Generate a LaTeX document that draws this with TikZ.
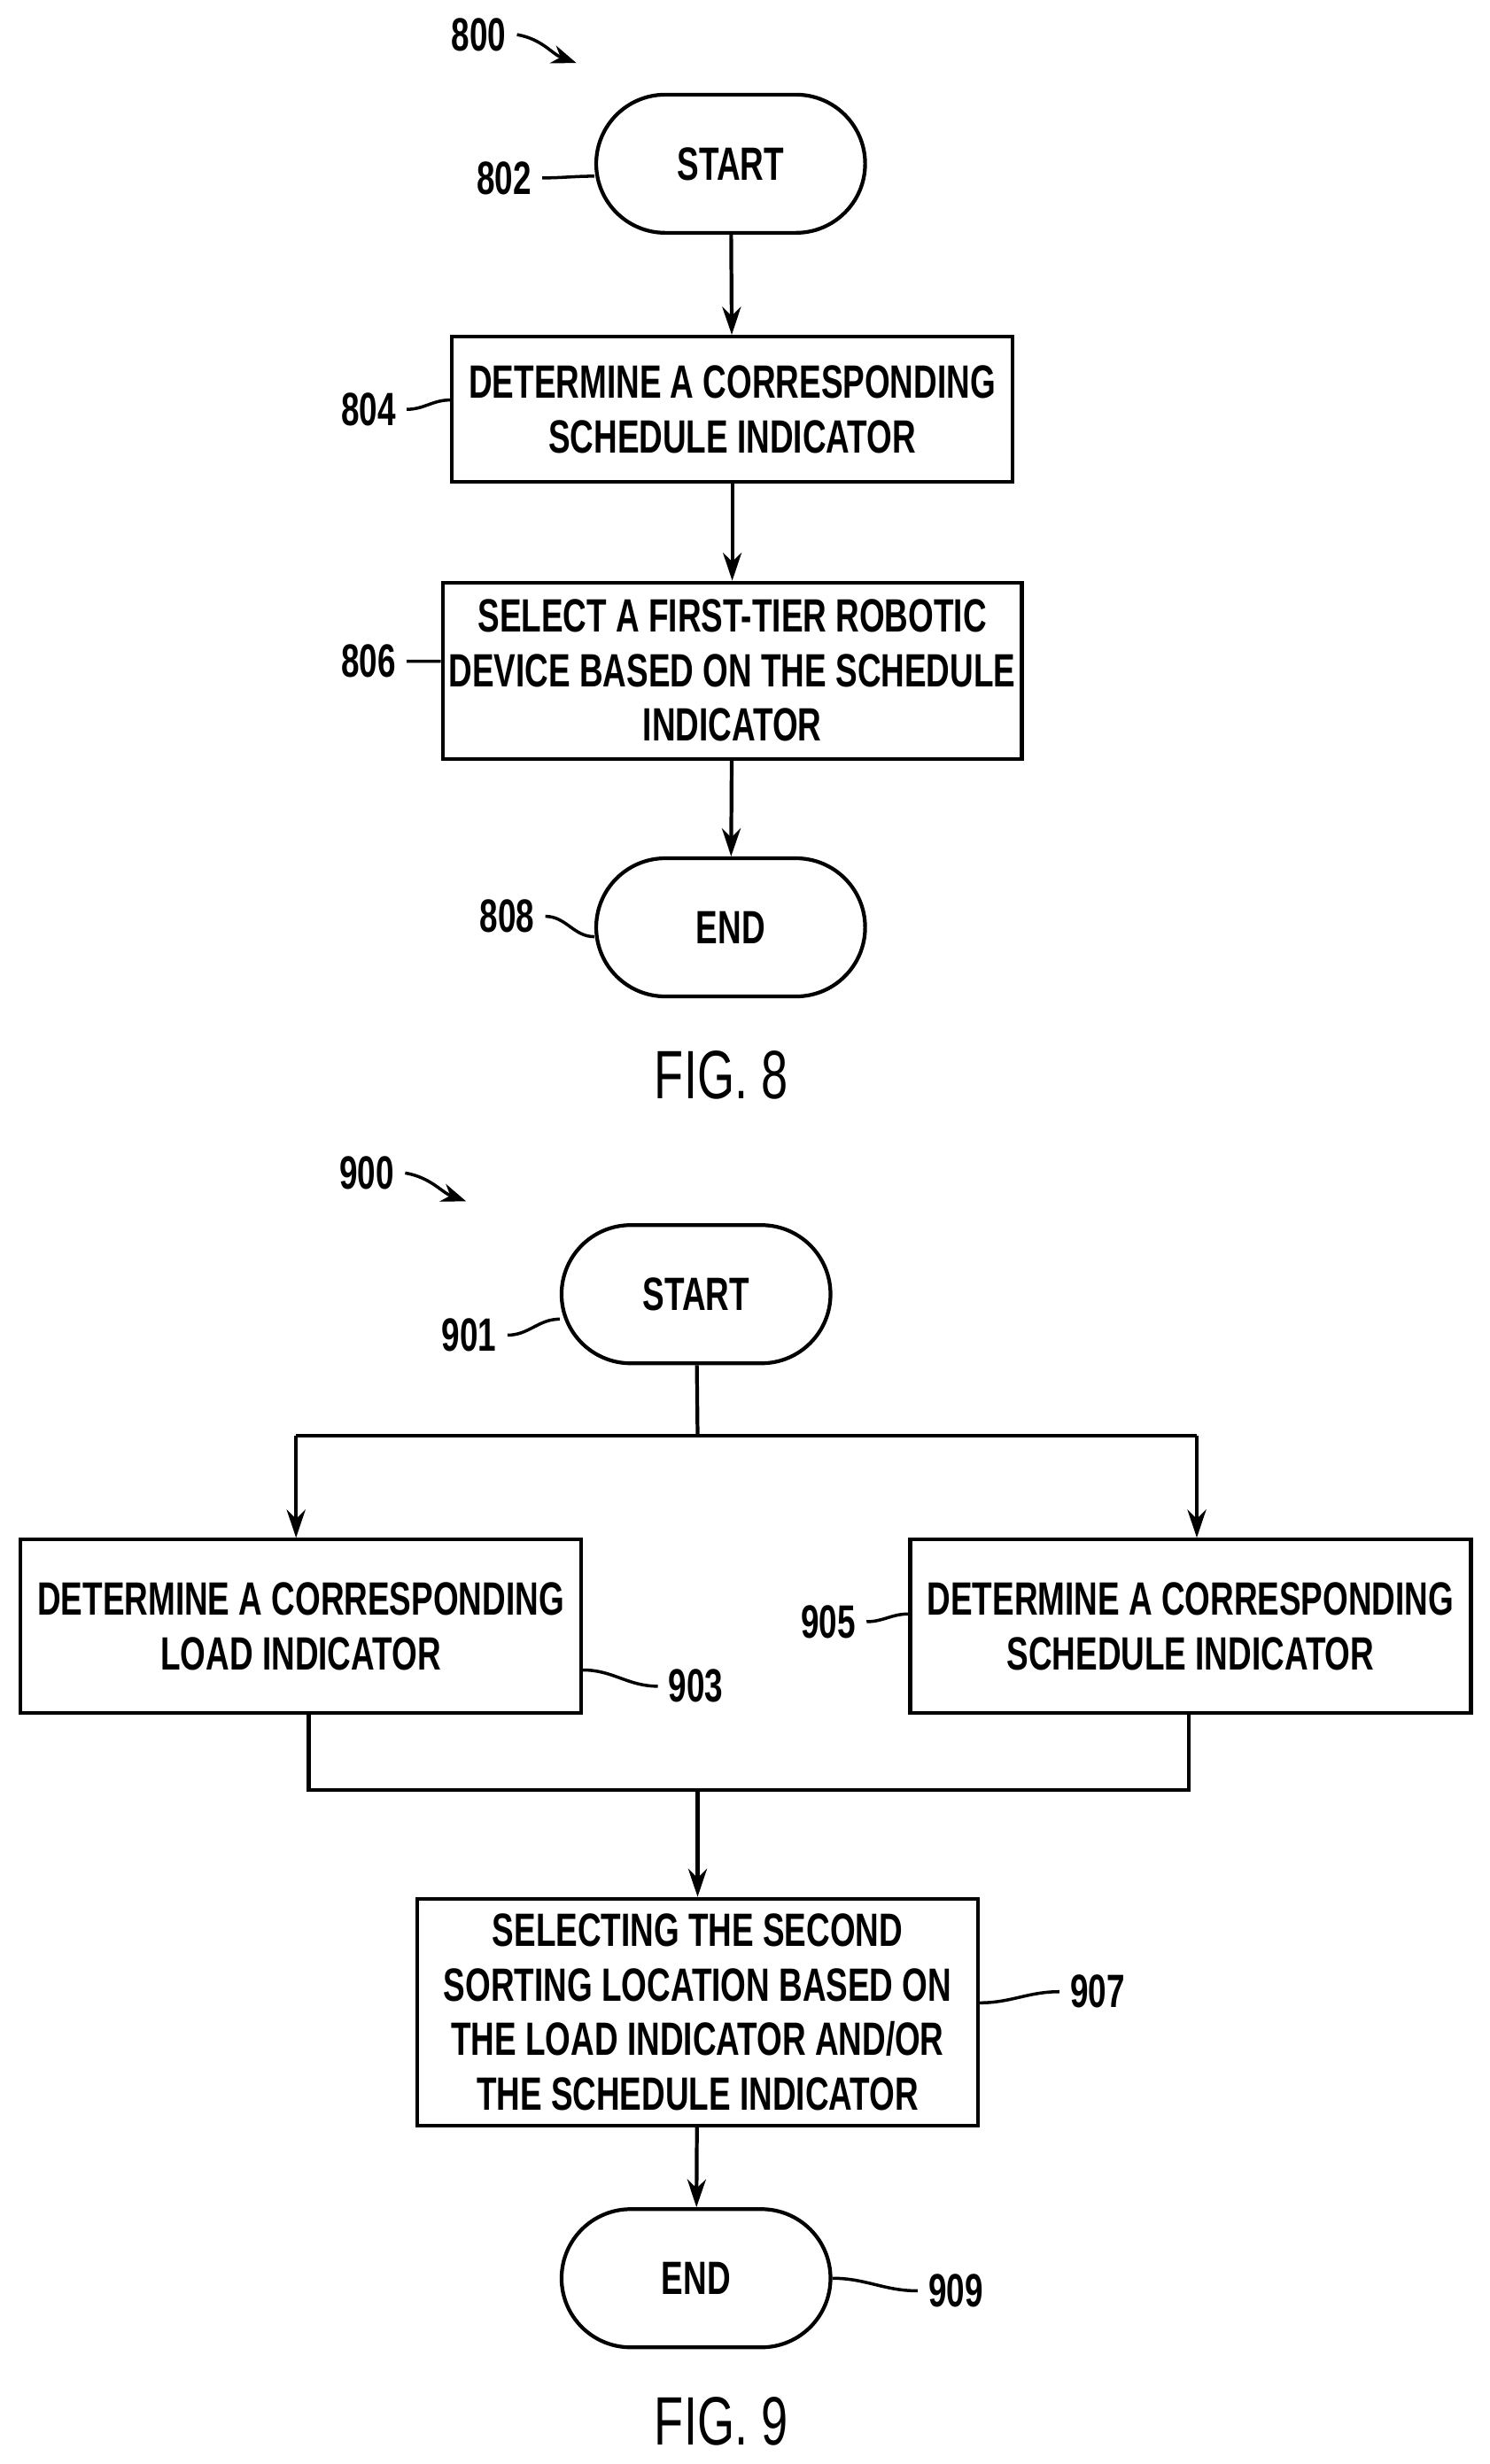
\documentclass[tikz,border=0pt]{standalone}
\usepackage{fontspec}
\setmainfont{Liberation Sans}[FakeStretch=0.7]
\usetikzlibrary{shapes.misc,arrows.meta}

\tikzset{
  every node/.style={font=\fontsize{15}{17.5}\selectfont\bfseries},
  term/.style={draw,line width=1.2pt,rounded rectangle,minimum width=3.27cm,minimum height=1.56cm},
  box/.style={draw,line width=1.2pt,minimum width=6.33cm,align=center,inner sep=2pt},
  flow/.style={line width=1.2pt,-{Stealth[length=9pt,width=6pt]}},
  lead/.style={line width=1pt},
  ref/.style={font=\fontsize{15}{17.5}\selectfont\bfseries}
}

\begin{document}
\begin{tikzpicture}[x=0.01778cm,y=-0.01778cm]
  \useasboundingbox (0,0) rectangle (946,1565);
  % FIG. 8
  \node[ref] (n800) at (304,22) {800};
  \coordinate (a800) at (366,40);
  \draw[lead,-{Stealth[length=8pt,width=6pt]}] (n800.east) to[out=-10,in=160] (a800);
  \node[term] (s8) at (464,104) {START};
  \node[box,minimum height=1.64cm] (b804) at (465,260) {DETERMINE A CORRESPONDING\\SCHEDULE INDICATOR};
  \node[box,minimum height=1.99cm] (b806) at (465,426) {SELECT A FIRST-TIER ROBOTIC\\DEVICE BASED ON THE SCHEDULE\\INDICATOR};
  \node[term] (e8) at (464,589) {END};
  \node[font=\fontsize{22}{26}\selectfont] (f8) at (458,683) {FIG. 8};
  \draw[flow] (s8) -- (b804);
  \draw[flow] (b804) -- (b806);
  \draw[flow] (b806) -- (e8);
  \node[ref] (n802) at (320,113) {802};
  \draw[lead] (n802.east) to[out=0,in=180] ([yshift=-4pt]s8.west);
  \node[ref] (n804) at (234,260) {804};
  \draw[lead] (n804.east) to[out=0,in=180] ([yshift=3pt]b804.west);
  \node[ref] (n806) at (234,420) {806};
  \draw[lead] (n806.east) to[out=0,in=180] ([yshift=3pt]b806.west);
  \node[ref] (n808) at (322,582) {808};
  \draw[lead] (n808.east) to[out=0,in=180] ([yshift=-3pt]e8.west);
  % FIG. 9
  \node[ref] (n900) at (233,745) {900};
  \coordinate (a900) at (296,763);
  \draw[lead,-{Stealth[length=8pt,width=6pt]}] (n900.east) to[out=-10,in=160] (a900);
  \node[term] (s9) at (442,822) {START};
  \node[box,minimum height=1.96cm] (b903) at (191,1033) {DETERMINE A CORRESPONDING\\LOAD INDICATOR};
  \node[box,minimum height=1.96cm] (b905) at (756,1033) {DETERMINE A CORRESPONDING\\SCHEDULE INDICATOR};
  \node[box,minimum height=2.56cm] (b907) at (443,1278) {SELECTING THE SECOND\\SORTING LOCATION BASED ON\\THE LOAD INDICATOR AND/OR\\THE SCHEDULE INDICATOR};
  \node[term] (e9) at (442,1447) {END};
  \node[font=\fontsize{22}{26}\selectfont] (f9) at (458,1538) {FIG. 9};
  \coordinate (sp) at (443,912);
  \coordinate (spl) at (188,912);
  \coordinate (spr) at (760,912);
  \coordinate (mg) at (443,1137);
  \coordinate (mgl) at (196,1137);
  \coordinate (mgr) at (755,1137);
  \draw[line width=1.2pt] (s9) -- (sp);
  \draw[line width=1.2pt] (spl) -- (spr);
  \draw[flow] (spl) -- (spl |- b903.north);
  \draw[flow] (spr) -- (spr |- b905.north);
  \draw[line width=1.2pt] (mgl |- b903.south) -- (mgl) -- (mgr) -- (mgr |- b905.south);
  \draw[flow] (mg) -- (b907);
  \draw[flow] (b907) -- (e9);
  \node[ref] (n901) at (298,848) {901};
  \draw[lead] (n901.east) to[out=0,in=180] ([yshift=-8pt]s9.west);
  \node[ref] (n903) at (442,1071) {903};
  \draw[lead] (n903.west) to[out=180,in=0] ([yshift=-14pt]b903.east);
  \node[ref] (n905) at (526,1030) {905};
  \draw[lead] (n905.east) to[out=0,in=180] ([yshift=4pt]b905.west);
  \node[ref] (n907) at (697,1265) {907};
  \draw[lead] (n907.west) to[out=180,in=0] ([yshift=3pt]b907.east);
  \node[ref] (n909) at (607,1455) {909};
  \draw[lead] (n909.west) to[out=180,in=0] (e9.east);
\end{tikzpicture}
\end{document}
